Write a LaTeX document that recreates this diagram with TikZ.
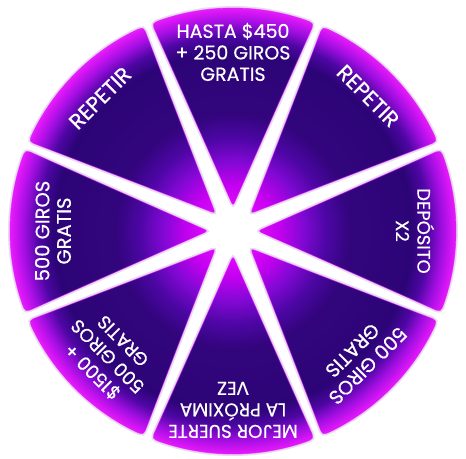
\documentclass[tikz,border=0pt]{standalone}
\usepackage{fontspec}
\setmainfont{Poppins}[FakeBold=0.5]
\usetikzlibrary{calc}
\definecolor{wdark}{HTML}{2D0478}
\definecolor{wmag}{HTML}{E20CFF}
\definecolor{wglow}{HTML}{E8DAF2}
\pgfdeclareradialshading{wheelshade}{\pgfpoint{0bp}{0bp}}{%
  color(0bp)=(white); color(1.6bp)=(white); color(2.4bp)=(wmag);
  color(5.0bp)=(rgb,255:red,196;green,0;blue,240);
  color(7.6bp)=(rgb,255:red,130;green,8;blue,212);
  color(10.2bp)=(rgb,255:red,76;green,6;blue,164);
  color(12.8bp)=(rgb,255:red,50;green,5;blue,124);
  color(19.6bp)=(wdark);
  color(21.2bp)=(rgb,255:red,78;green,6;blue,164);
  color(22.7bp)=(rgb,255:red,160;green,14;blue,224);
  color(24.0bp)=(rgb,255:red,222;green,22;blue,248);
  color(25bp)=(rgb,255:red,240;green,64;blue,255);
  color(50bp)=(rgb,255:red,240;green,64;blue,255)}
\newcommand\wseg[1]{%
  ($(#1+21.34:223)!10pt!(#1:25)$) -- ($(#1:25)!7pt!(#1+21.34:223)$)
  .. controls (#1:25) .. ($(#1:25)!7pt!(#1-21.34:223)$) --
  ($(#1-21.34:223)!10pt!(#1:25)$) .. controls (#1-21.34:223) .. (#1-18.77:223)
  arc[start angle=#1-18.77, end angle=#1+18.77, radius=223]
  .. controls (#1+21.34:223) .. cycle}
\tikzset{
  segglow/.style={draw=wglow, line width=4},
  segedge/.style={draw=wmag, line width=0.8, opacity=0.55},
  lbl/.style={text=white, align=center, inner sep=0},
  fs/.style={font=\fontsize{#1}{21.5}\selectfont}
}
\begin{document}
\begin{tikzpicture}[x=1pt,y=1pt]
\useasboundingbox (-233,-227) rectangle (233,231);
\foreach \t in {90,45,0,-45,-90,-135,180,135}{
  \path[segglow] \wseg{\t};
}
\begin{scope}
  \clip \wseg{90} \wseg{45} \wseg{0} \wseg{-45}
        \wseg{-90} \wseg{-135} \wseg{180} \wseg{135};
  \shade[shading=wheelshade] (0,0) circle (230);
\end{scope}
\foreach \t in {90,45,0,-45,-90,-135,180,135}{
  \path[segedge] \wseg{\t};
}
\node[lbl, fs=19, rotate=0]      (t1) at (90:179)   {HASTA \$450\\+ 250 GIROS\\GRATIS};
\node[lbl, fs=21.5, rotate=-45]  (t2) at (45:191)   {REPETIR};
\node[lbl, fs=18, rotate=-90]    (t3) at (0:182)    {DEPÓSITO\\X2};
\node[lbl, fs=19.5, rotate=-135] (t4) at (-45:180)  {500 GIROS\\GRATIS};
\node[lbl, fs=18.5, rotate=180]  (t5) at (-90:179)  {MEJOR SUERTE\\LA PRÓXIMA\\VEZ};
\node[lbl, fs=18.5, rotate=135]  (t6) at (-135:178) {\$1500 +\\500 GIROS\\GRATIS};
\node[lbl, fs=19.5, rotate=90]   (t7) at (180:180)  {500 GIROS\\GRATIS};
\node[lbl, fs=21.5, rotate=45]   (t8) at (135:188)  {REPETIR};
\end{tikzpicture}
\end{document}
